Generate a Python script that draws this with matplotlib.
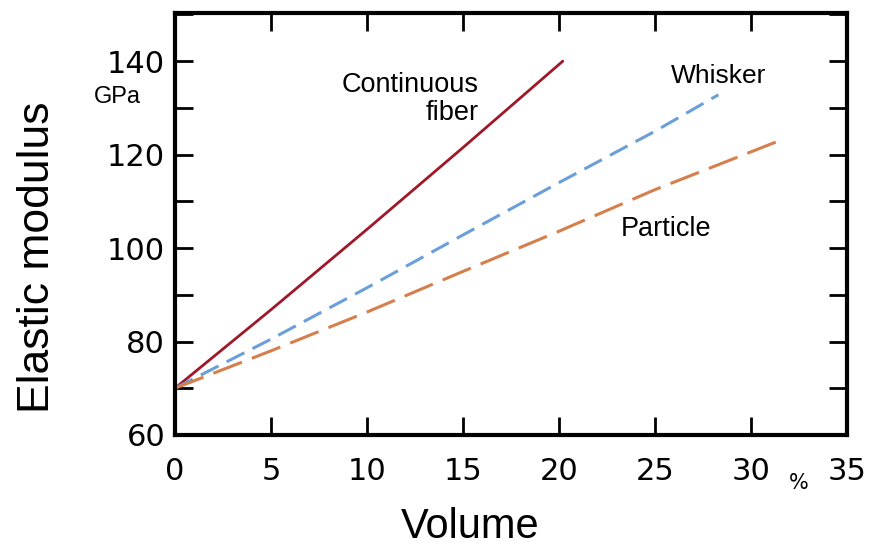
import matplotlib
matplotlib.use("Agg")
import matplotlib.pyplot as plt
from matplotlib.ticker import MultipleLocator, FixedLocator, NullLocator

# --- data ---
fiber_x = [0, 5, 10, 15, 20.2]
fiber_y = [70, 86.8, 104, 121.5, 140]

whisker_x = [0, 5, 10, 15, 20, 25, 28.3]
whisker_y = [70, 80.5, 91.5, 102.8, 114, 125, 132.8]

particle_x = [0, 5, 10, 15, 20, 25, 31.8]
particle_y = [70, 78, 86.3, 95, 103.6, 112.5, 123.5]

x_ticks = [0, 5, 10, 15, 20, 25, 30, 35]
x_labels = ["0", "5", "10", "15", "20", "25", "30", "35"]
y_ticks = [60, 80, 100, 120, 140]

LABEL_FONT = "Liberation Sans"
TICK_FONT = "DejaVu Sans"

fig = plt.figure(figsize=(8.77, 5.49), dpi=100)
ax = fig.add_axes([0.1995, 0.2077, 0.7663, 0.7686])

ax.plot(fiber_x, fiber_y, color="#a01828", lw=2.0, solid_capstyle="round")
ax.plot(whisker_x, whisker_y, color="#6a9fd8", lw=2.2, dashes=(6.5, 3))
ax.plot(particle_x, particle_y, color="#d47f4c", lw=2.2, dashes=(10, 3.5))

ax.set_xlim(0, 35)
ax.set_ylim(60, 150.3)

for sp in ax.spines.values():
    sp.set_linewidth(3)

ax.xaxis.set_major_locator(FixedLocator(x_ticks))
ax.set_xticklabels(x_labels)
ax.xaxis.set_minor_locator(NullLocator())
ax.yaxis.set_major_locator(FixedLocator(y_ticks))
ax.yaxis.set_minor_locator(MultipleLocator(10))

ax.tick_params(axis="both", which="both", direction="in", length=13, width=2,
               top=True, right=True)
ax.tick_params(axis="x", pad=16, labelsize=22)
ax.tick_params(axis="y", pad=7, labelsize=22)
for lab in ax.get_xticklabels() + ax.get_yticklabels():
    lab.set_family(TICK_FONT)

ax.set_xlabel("Volume", fontsize=30, family=LABEL_FONT, va="center", ha="center")
ax.xaxis.set_label_coords(0.439, -0.218)
ax.set_ylabel("Elastic modulus", fontsize=32, family=LABEL_FONT, va="center", ha="center")
ax.yaxis.set_label_coords(-0.205, 0.42)

ax.text(32.5, -0.115, "%", transform=ax.get_xaxis_transform(), fontsize=15,
        family=TICK_FONT, ha="center", va="center")
ax.text(-3.0, 132.3, "GPa", fontsize=17, family=LABEL_FONT, ha="center", va="center")

ax.text(15.8, 132, "Continuous\nfiber", fontsize=19.5, family=LABEL_FONT,
        ha="right", va="center", multialignment="right", linespacing=1.1)
ax.text(28.3, 136.8, "Whisker", fontsize=19, family=LABEL_FONT, ha="center", va="center")
ax.text(25.6, 104, "Particle", fontsize=19.5, family=LABEL_FONT, ha="center", va="center")

fig.savefig("out.png", dpi=100)
